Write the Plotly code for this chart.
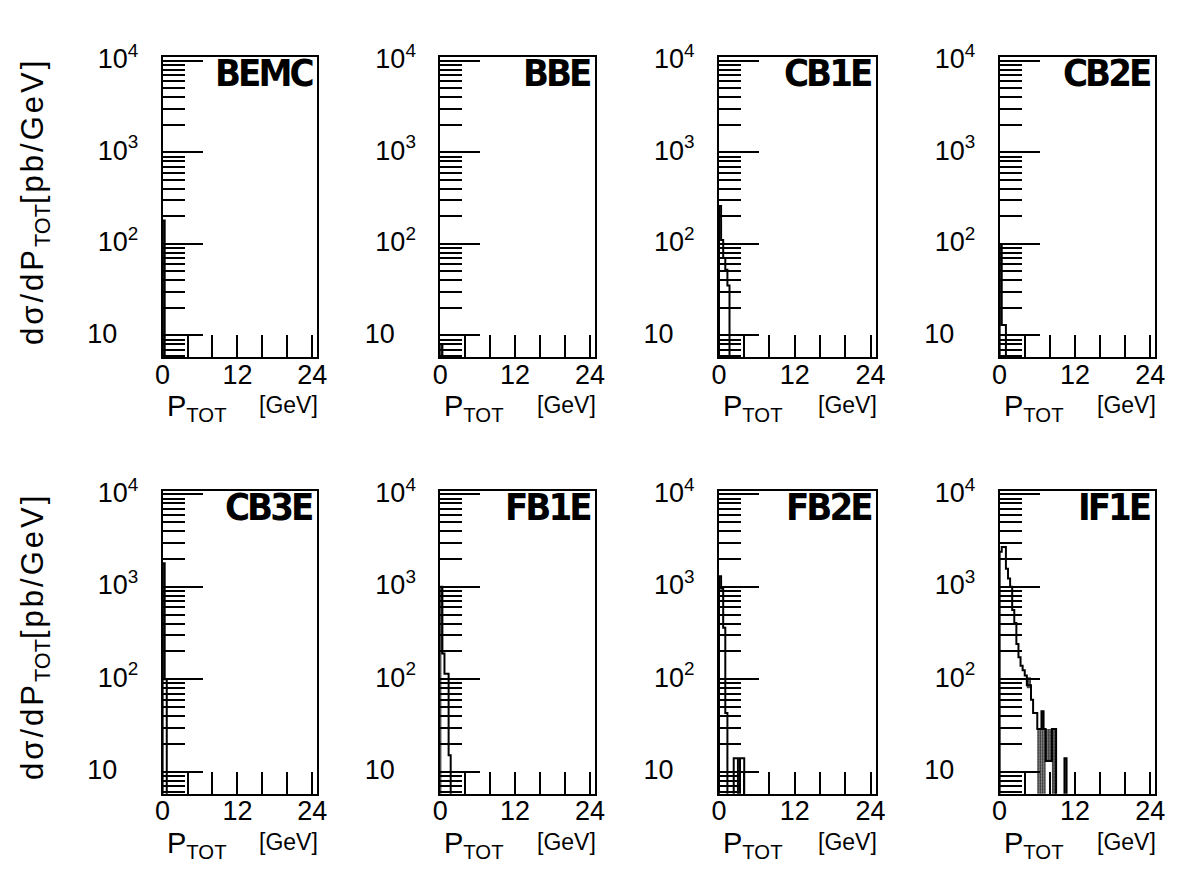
import numpy as np
import plotly.graph_objects as go

# Histograms of d(sigma)/dP_TOT per calorimeter section, 1/3 GeV bins from 0 GeV
BIN_W = 1.0 / 3.0
PANELS = ["BEMC", "BBE", "CB1E", "CB2E", "CB3E", "FB1E", "FB2E", "IF1E"]

BEMC = [180]
BBE = [8]
CB1E = [260, 110, 70, 52, 35]
CB2E = [100, 13, 13]
CB3E = [1800, 100]
FB1E = [1000, 190, 115, 115, 15]
FB2E = [1300, 960, 360, 43, 0, 0, 0, 14, 14, 0, 14, 14]
IF1E = [2400, 2700, 2700, 1570, 1230, 1000, 560, 405, 240, 173, 140, 125, 110,
        86, 86, 60, 43, 43, 29, 29, 45, 29, 13, 13, 13, 29, 29, 0, 0, 0, 0, 14]

# stippled band drawn under the IF1E histogram (bin index, lower, upper)
IF1E_SHADE_BINS = [13, 14, 18, 19, 20, 21, 22, 23, 24, 25, 26]
IF1E_SHADE_LOW = [80, 80, 1, 1, 1, 1, 13, 13, 13, 1, 1]
IF1E_SHADE_HIGH = [105, 105, 29, 29, 45, 29, 29, 29, 29, 29, 29]

X_TICKS = [0, 4, 8, 12, 16, 20, 24]
X_TICK_TEXT = ["0", "", "", "12", "", "", "24"]
Y_TICKS = [10, 100, 1000, 10000]
Y_TICK_TEXT = ["10<sup>\u00a0\u00a0\u00a0\u00a0</sup>", "10<sup>2</sup>", "10<sup>3</sup>", "10<sup>4</sup>"]
Y_MINOR = [m * 10 ** d for d in range(0, 4) for m in range(2, 10) if m * 10 ** d > 5]

SERIES = [BEMC, BBE, CB1E, CB2E, CB3E, FB1E, FB2E, IF1E]
FLOOR = 1.0

FONT = "Liberation Sans, Arial, sans-serif"
LABEL_FONT = "DejaVu Sans Condensed, DejaVu Sans, sans-serif"
W, H = 1180, 887
COLS_PX = [(157, 314), (439, 596), (722, 881), (1007, 1165)]
ROWS_PX = [(41, 347), (483, 792)]


def step_path(vals):
    xs, ys = [0.0], [FLOOR]
    for i, v in enumerate(vals):
        v = v if v > 0 else FLOOR
        xs += [i * BIN_W, (i + 1) * BIN_W]
        ys += [v, v]
    xs.append(len(vals) * BIN_W)
    ys.append(FLOOR)
    return xs, ys


fig = go.Figure()
layout = dict(
    width=W, height=H, margin=dict(l=0, r=0, t=0, b=0),
    paper_bgcolor="white", plot_bgcolor="white", showlegend=False,
    font=dict(family=FONT, color="black"),
)
annotations = []

for k, (name, vals) in enumerate(zip(PANELS, SERIES)):
    n = k + 1
    row, col = divmod(k, 4)
    x0, x1 = COLS_PX[col]
    top, bot = ROWS_PX[row]
    xa, ya = ("x" if n == 1 else f"x{n}"), ("y" if n == 1 else f"y{n}")

    if name == "IF1E":
        centers = [(b + 0.5) * BIN_W for b in IF1E_SHADE_BINS]
        fig.add_trace(go.Bar(
            x=centers, base=IF1E_SHADE_LOW,
            y=[h - l for h, l in zip(IF1E_SHADE_HIGH, IF1E_SHADE_LOW)],
            width=BIN_W, xaxis=xa, yaxis=ya,
            marker=dict(color="#444444", line=dict(width=0),
                        pattern=dict(shape=".", fgcolor="black", bgcolor="#666666",
                                     size=3, solidity=0.5)),
        ))

    sx, sy = step_path(vals)
    fig.add_trace(go.Scatter(x=sx, y=sy, mode="lines", xaxis=xa, yaxis=ya,
                             line=dict(color="black", width=2)))

    layout["xaxis" if n == 1 else f"xaxis{n}"] = dict(
        domain=[x0 / W, x1 / W], anchor=ya, range=[0, 24.8],
        tickmode="array", tickvals=X_TICKS, ticktext=X_TICK_TEXT,
        ticks="inside", ticklen=22, tickwidth=2, tickcolor="black",
        showline=True, linewidth=2, linecolor="black", mirror=True,
        showgrid=False, zeroline=False, tickfont=dict(size=27, family=FONT),
        ticklabelstandoff=-8,
    )
    layout["yaxis" if n == 1 else f"yaxis{n}"] = dict(
        domain=[1 - bot / H, 1 - top / H], anchor=xa, type="log", range=[0.76, 4.04],
        tickmode="array", tickvals=Y_TICKS, ticktext=Y_TICK_TEXT,
        ticks="inside", ticklen=40, tickwidth=2, tickcolor="black",
        minor=dict(tickmode="array", tickvals=Y_MINOR, ticks="inside",
                   ticklen=22, tickwidth=2, tickcolor="black"),
        showline=True, linewidth=2, linecolor="black", mirror=True,
        showgrid=False, zeroline=False, tickfont=dict(size=27, family=FONT),
        ticklabelstandoff=17, ticklabelshift=-2,
    )

    annotations.append(dict(
        text=f"<b><span style='letter-spacing:-3px'>{name}</span></b>",
        xref=f"{xa} domain", yref=f"{ya} domain",
        x=1, y=1, xanchor="right", yanchor="top", xshift=-3, yshift=8,
        showarrow=False, font=dict(family=LABEL_FONT, size=38, color="black"),
    ))
    annotations.append(dict(
        text="P<sub>TOT</sub>", xref=f"{xa} domain", yref=f"{ya} domain",
        x=0, y=0, xanchor="left", yanchor="top", xshift=2, yshift=-31,
        showarrow=False, font=dict(size=29, family=FONT),
    ))
    annotations.append(dict(
        text="[GeV]", xref=f"{xa} domain", yref=f"{ya} domain",
        x=1, y=0, xanchor="right", yanchor="top", xshift=3, yshift=-33,
        showarrow=False, font=dict(size=23, family=FONT),
    ))

for top, bot in ROWS_PX:
    annotations.append(dict(
        text="<span style='letter-spacing:3px'>dσ/dP</span><sub>TOT</sub>"
             "<span style='letter-spacing:3px'>[pb/GeV]</span>",
        xref="paper", yref="paper",
        x=28 / W, y=1 - (top + bot - 12) / 2 / H, xanchor="center", yanchor="middle",
        textangle=-90, showarrow=False, font=dict(size=31, family=FONT),
    ))

layout["annotations"] = annotations
fig.update_layout(**layout)
fig.write_html("out.html")
